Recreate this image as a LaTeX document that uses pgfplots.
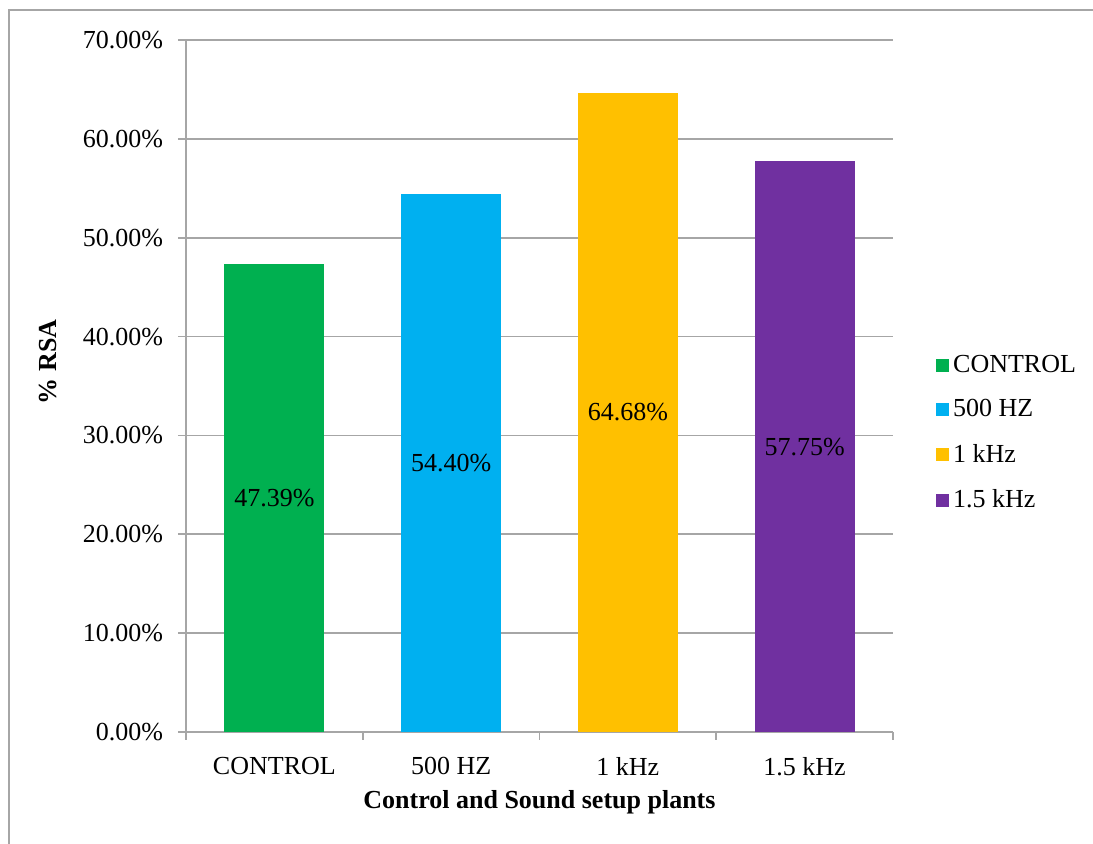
\documentclass[border=0pt]{standalone}
\usepackage{pgfplots}
\pgfplotsset{compat=1.18}
\usepackage{fontspec}
\setmainfont{Liberation Serif}
\definecolor{cgreen}{HTML}{00B050}
\definecolor{cblue}{HTML}{00B0F0}
\definecolor{cyellow}{HTML}{FFC000}
\definecolor{cpurple}{HTML}{7030A0}
\definecolor{gridgray}{HTML}{A6A6A6}
\begin{document}
\begin{tikzpicture}
\useasboundingbox (-93pt,-56pt) rectangle (453.5pt,366pt);
\draw[gridgray, line width=0.8pt] (-88.5pt,-120pt) rectangle (520pt,361pt);
\begin{axis}[
  at={(0pt,0pt)}, anchor=south west,
  scale only axis, width=353.5pt, height=346pt,
  xmin=-0.5, xmax=3.5, ymin=0, ymax=70,
  font=\fontsize{13pt}{15pt}\selectfont,
  /pgf/number format/assume math mode=true,
  axis x line*=bottom, axis y line*=left,
  axis line style={-, gridgray, line width=0.8pt},
  xtick={0,1,2,3},
  xticklabels={CONTROL, 500 HZ, 1 kHz, 1.5 kHz},
  major x tick style={draw=none},
  minor xtick={-0.5,0.5,1.5,2.5,3.5},
  minor x tick style={gridgray, line width=0.8pt},
  minor tick length=4pt,
  ytick={0,10,...,70},
  yticklabel={\pgfmathprintnumber[fixed,fixed zerofill,precision=2]{\tick}\%},
  y tick style={gridgray, line width=0.8pt},
  major tick length=4pt,
  tick align=outside,
  ymajorgrids,
  major grid style={gridgray, line width=0.8pt},
  xticklabel style={yshift=-5pt},
  yticklabel style={xshift=-4pt},
  xlabel={\textbf{Control and Sound setup plants}},
  xlabel style={at={(axis description cs:0.5,-0.101)}, anchor=center},
  ylabel={\textbf{\% RSA}},
  ylabel style={at={(axis description cs:-0.195,0.535)}, anchor=center},
  legend style={draw=none, fill=none, at={(rel axis cs:1.052,0.554)}, anchor=north west,
    row sep=10.2pt, font=\fontsize{13pt}{15pt}\selectfont, nodes={inner xsep=2pt, inner ysep=1pt}},
  legend cell align=left,
  legend image code/.code={\fill[#1] (0pt,-3.25pt) rectangle (6.5pt,3.25pt);},
]
\addplot[ybar, bar width=50pt, bar shift=0pt, fill=cgreen, draw=none] coordinates {(0,47.39)};
\addlegendentry{CONTROL}
\addplot[ybar, bar width=50pt, bar shift=0pt, fill=cblue, draw=none] coordinates {(1,54.40)};
\addlegendentry{500 HZ}
\addplot[ybar, bar width=50pt, bar shift=0pt, fill=cyellow, draw=none] coordinates {(2,64.68)};
\addlegendentry{1 kHz}
\addplot[ybar, bar width=50pt, bar shift=0pt, fill=cpurple, draw=none] coordinates {(3,57.75)};
\addlegendentry{1.5 kHz}
\addplot[forget plot, draw=none, mark=none, nodes near coords, point meta=explicit symbolic,
  every node near coord/.style={anchor=center, font=\fontsize{13pt}{15pt}\selectfont}]
  coordinates {(0,23.695)[47.39\%] (1,27.20)[54.40\%] (2,32.34)[64.68\%] (3,28.875)[57.75\%]};
\end{axis}
\end{tikzpicture}
\end{document}
